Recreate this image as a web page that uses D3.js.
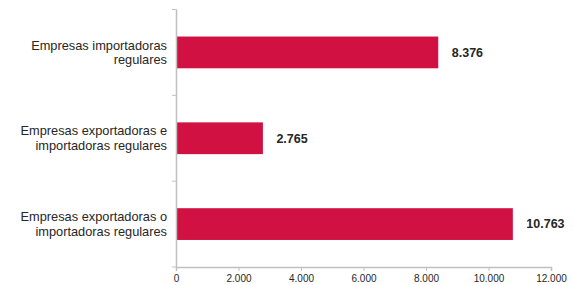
<!DOCTYPE html>
<html>
<head>
<meta charset="utf-8">
<script src="https://cdn.jsdelivr.net/npm/d3@7"></script>
<style>
  body { margin: 0; background: #fff; }
  text { font-family: "Liberation Sans", Arial, sans-serif; }
</style>
</head>
<body>
<div id="chart"></div>
<script>
var categories = [
    ["Empresas importadoras", "regulares"],
    ["Empresas exportadoras e", "importadoras regulares"],
    ["Empresas exportadoras o", "importadoras regulares"]
];
var values = [8376, 2765, 10763];
var valueLabels = ["8.376", "2.765", "10.763"];
var tickValues = [0, 2000, 4000, 6000, 8000, 10000, 12000];
var tickLabels = ["0", "2.000", "4.000", "6.000", "8.000", "10.000", "12.000"];

var width = 574,
    height = 285;

var svg = d3.select("#chart")
    .append("svg")
    .attr("width", width)
    .attr("height", height)

var x = d3.scaleLinear().domain([0, 12000]).range([176, 551])

var y = d3.scaleBand()
    .domain(d3.range(categories.length))
    .range([9.5, 267])
    .paddingInner(0.63)
    .paddingOuter(0.315)

// bars
svg.selectAll(".bar")
    .data(values)
    .enter().append("rect")
    .attr("class", "bar")
    .attr("x", x(0) + 0.5)
    .attr("y", function(d, i) { return y(i) })
    .attr("width", function(d) { return x(d) - x(0) })
    .attr("height", y.bandwidth())
    .attr("fill", "#d01142")

// value labels
svg.selectAll(".val")
    .data(values)
    .enter().append("text")
    .attr("class", "val")
    .attr("x", function(d) { return x(d) + 14 })
    .attr("y", function(d, i) { return y(i) + y.bandwidth() / 2 })
    .attr("dy", "0.35em")
    .attr("font-size", 12.5)
    .attr("font-weight", "bold")
    .attr("fill", "#262626")
    .text(function(d, i) { return valueLabels[i] })

// y axis line + category separators
var axisColor = "#c0c0c0";
svg.append("line")
    .attr("x1", 176.5).attr("x2", 176.5)
    .attr("y1", 9.5).attr("y2", 267)
    .attr("stroke", axisColor)
    .attr("stroke-width", 1.5)

svg.selectAll(".ytick")
    .data(d3.range(categories.length + 1))
    .enter().append("line")
    .attr("class", "ytick")
    .attr("x1", 172).attr("x2", 176.5)
    .attr("y1", function(d) { return 9.5 + d * (257.5 / 3) })
    .attr("y2", function(d) { return 9.5 + d * (257.5 / 3) })
    .attr("stroke", axisColor)

// category labels
var lineGap = 14.5;
var labels = svg.selectAll(".cat")
    .data(categories)
    .enter().append("text")
    .attr("class", "cat")
    .attr("text-anchor", "end")
    .attr("font-size", 12.8)
    .attr("fill", "#262626")
    .attr("y", function(d, i) { return y(i) + y.bandwidth() / 2 - lineGap / 2 })

labels.selectAll("tspan")
    .data(function(d) { return d })
    .enter().append("tspan")
    .attr("x", 167)
    .attr("dy", function(d, j) { return j == 0 ? "0.35em" : lineGap })
    .text(function(d) { return d })

// x axis
var xAxis = d3.axisBottom(x)
    .tickValues(tickValues)
    .tickFormat(function(d, i) { return tickLabels[i] })
    .tickSize(4)
    .tickPadding(4)

var gx = svg.append("g")
    .attr("transform", "translate(0,267)")
    .call(xAxis)

gx.select(".domain").attr("stroke", axisColor).attr("stroke-width", 1.5)
gx.selectAll(".tick line").attr("stroke", axisColor)
gx.selectAll(".tick text")
    .attr("font-size", 10)
    .attr("fill", "#262626")
    .style("font-family", "Liberation Sans, Arial, sans-serif")
</script>
</body>
</html>
